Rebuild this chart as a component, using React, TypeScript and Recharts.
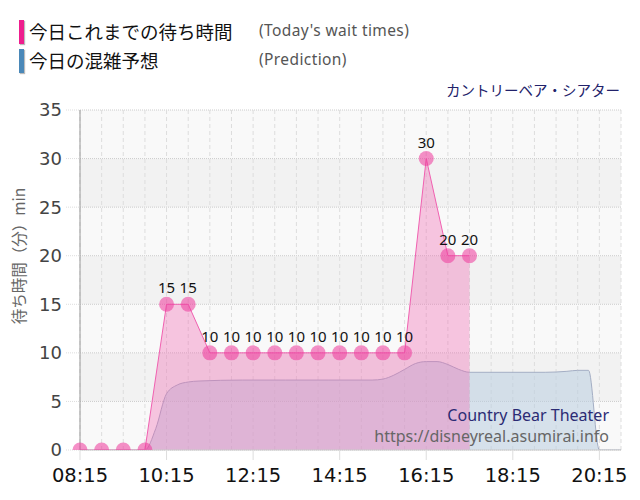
import { ComposedChart, Area, XAxis, YAxis, CartesianGrid, LabelList } from 'recharts';

// times are minutes since midnight
const waitTimes = [495, 525, 555, 585, 615, 645, 675, 705, 735, 765, 795, 825, 855, 885, 915, 945, 975, 1005, 1035];
const waitValues = [0, 0, 0, 0, 15, 15, 10, 10, 10, 10, 10, 10, 10, 10, 10, 10, 30, 20, 20];

const predictionTimes = [
    495, 525, 555, 585, 600, 615, 630, 645, 660, 720, 780, 840, 900, 915, 930, 945, 960, 975, 990, 1005, 1020, 1035,
    1080, 1140, 1170, 1185, 1200, 1215, 1230, 1245,
];
const predictionValues = [
    0, 0, 0, 0, 2.2, 5.8, 6.7, 7.0, 7.1, 7.2, 7.2, 7.2, 7.2, 7.3, 7.7, 8.3, 8.9, 9.1, 9.1, 8.8, 8.3, 8.0,
    8.0, 8.0, 8.1, 8.2, 8.2, 0, 0, 0,
];

const xTicks = [495, 525, 555, 585, 615, 645, 675, 705, 735, 765, 795, 825, 855, 885, 915, 945, 975, 1005, 1035, 1065, 1095, 1125, 1155, 1185, 1215, 1245];
const xLabelTicks = [495, 615, 735, 855, 975, 1095, 1215];
const yTicks = [0, 5, 10, 15, 20, 25, 30, 35];

const waitData = waitTimes.map((t, i) => ({ t, wait: waitValues[i] }));
const predictionData = predictionTimes.map((t, i) => ({ t, pred: predictionValues[i] }));

const fmtTime = (m: number) => `${String(Math.floor(m / 60)).padStart(2, '0')}:${String(m % 60).padStart(2, '0')}`;

const TimeTick = (props: any) => {
    const { x, y, payload } = props;
    if (!xLabelTicks.includes(payload.value)) return null;
    return (
        <g>
            <line x1={x} x2={x} y1={y - 10} y2={y} stroke="#ddd" />
            <text x={x} y={y + 22} textAnchor="middle" fill="#111" fontSize={19.5} fontFamily="'DejaVu Sans', sans-serif">
                {fmtTime(payload.value)}
            </text>
        </g>
    );
};

const latin = "'Noto Sans', sans-serif";

export default function App() {
    return (
        <div style={{ position: 'relative', width: 640, height: 500, fontFamily: "'Noto Sans CJK JP', 'Noto Sans', sans-serif" }}>
            <style>{'body{margin:0}'}</style>
            <ComposedChart width={640} height={500} margin={{ top: 110, right: 19, bottom: 0, left: 0 }}>
                <CartesianGrid
                    vertical={false}
                    stroke="#ccc"
                    strokeDasharray="1 1"
                    horizontalFill={['#f9f9f9', '#f2f2f2']}
                />
                <CartesianGrid horizontal={false} stroke="#ddd" strokeDasharray="4 3" />
                <XAxis
                    dataKey="t"
                    type="number"
                    domain={[495, 1245]}
                    ticks={xTicks}
                    interval={0}
                    height={50}
                    tickSize={10}
                    tickMargin={0}
                    tickLine={false}
                    axisLine={{ stroke: '#ccc' }}
                    tick={<TimeTick />}
                    allowDuplicatedCategory={false}
                />
                <YAxis
                    type="number"
                    domain={[0, 35]}
                    ticks={yTicks}
                    width={80}
                    tickSize={14}
                    tickMargin={4}
                    tickLine={{ stroke: '#ddd', strokeDasharray: '1 1' }}
                    axisLine={{ stroke: '#999' }}
                    tick={{ fill: '#444', fontSize: 18, fontFamily: "'DejaVu Sans', sans-serif" }}
                    allowDataOverflow
                />
                <Area
                    data={predictionData}
                    dataKey="pred"
                    type="monotone"
                    stroke="#a4aec4"
                    strokeWidth={1}
                    fill="#b9cde0"
                    fillOpacity={0.55}
                    dot={false}
                    activeDot={false}
                    isAnimationActive={false}
                />
                <Area
                    data={waitData}
                    dataKey="wait"
                    type="linear"
                    stroke="#f060b0"
                    strokeWidth={1}
                    fill="#f060b0"
                    fillOpacity={0.35}
                    dot={{ r: 7.5, fill: '#ee3f9f', fillOpacity: 0.58, stroke: 'none' }}
                    activeDot={false}
                    isAnimationActive={false}
                >
                    <LabelList
                        dataKey="wait"
                        position="top"
                        offset={11}
                        fill="#111"
                        fontSize={15}
                        fontFamily={latin}
                        formatter={(v: any) => (v === 0 ? '' : v)}
                    />
                </Area>
            </ComposedChart>

            {/* legend */}
            <div style={{ position: 'absolute', left: 19, top: 20, width: 5, height: 24, background: '#ee1e8e', boxShadow: '1px 1px 1px #bbb' }} />
            <div style={{ position: 'absolute', left: 29, top: 18, fontSize: 18.5, lineHeight: '26px', color: '#111' }}>今日これまでの待ち時間</div>
            <div style={{ position: 'absolute', left: 259, top: 19, fontSize: 15.5, lineHeight: '22px', color: '#555', fontFamily: latin, letterSpacing: 0.4 }}>(Today's wait times)</div>
            <div style={{ position: 'absolute', left: 19, top: 49, width: 5, height: 24, background: '#4a88b8', boxShadow: '1px 1px 1px #bbb' }} />
            <div style={{ position: 'absolute', left: 29, top: 47, fontSize: 18.5, lineHeight: '26px', color: '#111' }}>今日の混雑予想</div>
            <div style={{ position: 'absolute', left: 259, top: 48, fontSize: 15.5, lineHeight: '22px', color: '#555', fontFamily: latin, letterSpacing: 0.4 }}>(Prediction)</div>

            {/* attraction title */}
            <div style={{ position: 'absolute', right: 20, top: 79, fontSize: 14.5, lineHeight: '22px', color: '#22226a' }}>カントリーベア・シアター</div>

            {/* y axis label */}
            <div
                style={{
                    position: 'absolute',
                    left: 18 - 90,
                    top: 256 - 11,
                    width: 180,
                    height: 22,
                    lineHeight: '22px',
                    textAlign: 'center',
                    fontSize: 15.5,
                    color: '#666',
                    transform: 'rotate(-90deg)',
                }}
            >
                待ち時間（分）min
            </div>

            {/* watermark */}
            <div style={{ position: 'absolute', right: 31, top: 404, fontSize: 16, lineHeight: '22px', color: '#2b2b74', fontFamily: latin }}>Country Bear Theater</div>
            <div style={{ position: 'absolute', right: 31, top: 425, fontSize: 16, lineHeight: '22px', color: '#666', fontFamily: latin }}>https://disneyreal.asumirai.info</div>
        </div>
    );
}
